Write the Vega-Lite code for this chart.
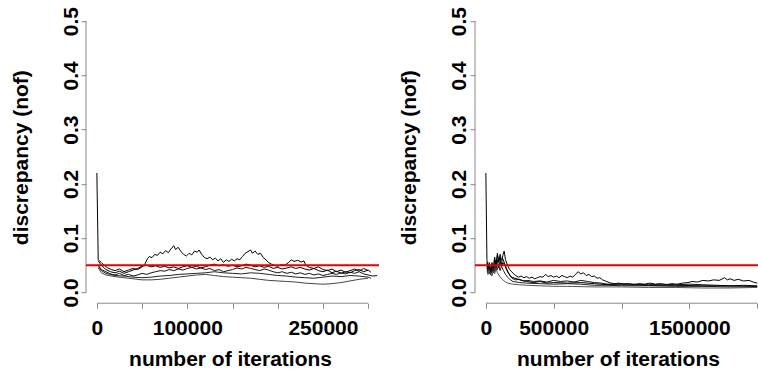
{
  "$schema": "https://vega.github.io/schema/vega-lite/v6.json",
  "autosize": {"type": "pad"},
  "padding": {"left": 10, "top": 6.2, "right": 0, "bottom": 0},
  "background": "white",
  "bounds": "flush",
  "spacing": 96,
  "config": {
    "view": {"stroke": null},
    "font": "Liberation Sans",
    "axis": {
      "grid": false,
      "domain": false,
      "ticks": true,
      "tickSize": 5,
      "tickColor": "#888888",
      "tickWidth": 1,
      "labelFont": "Liberation Sans",
      "labelFontWeight": "bold",
      "labelFontSize": 21,
      "labelColor": "black",
      "labelOverlap": false,
      "labelFlush": false,
      "titleFont": "Liberation Sans",
      "titleFontWeight": "bold",
      "titleFontSize": 21,
      "titleColor": "black"
    }
  },
  "datasets": {
    "short_runs": [
      {"run": "A", "iter": 0, "nof": 0.22}, {"run": "A", "iter": 1500, "nof": 0.06}, {"run": "A", "iter": 3000, "nof": 0.058}, {"run": "A", "iter": 5000, "nof": 0.055}, {"run": "A", "iter": 8000, "nof": 0.05}, {"run": "A", "iter": 12000, "nof": 0.045}, {"run": "A", "iter": 16000, "nof": 0.042}, {"run": "A", "iter": 20000, "nof": 0.04}, {"run": "A", "iter": 25000, "nof": 0.043}, {"run": "A", "iter": 30000, "nof": 0.038}, {"run": "A", "iter": 35000, "nof": 0.041}, {"run": "A", "iter": 40000, "nof": 0.044}, {"run": "A", "iter": 45000, "nof": 0.042}, {"run": "A", "iter": 50000, "nof": 0.047}, {"run": "A", "iter": 53000, "nof": 0.052}, {"run": "A", "iter": 56000, "nof": 0.062}, {"run": "A", "iter": 58000, "nof": 0.066}, {"run": "A", "iter": 61000, "nof": 0.064}, {"run": "A", "iter": 64000, "nof": 0.07}, {"run": "A", "iter": 67000, "nof": 0.068}, {"run": "A", "iter": 70000, "nof": 0.074}, {"run": "A", "iter": 73000, "nof": 0.071}, {"run": "A", "iter": 76000, "nof": 0.077}, {"run": "A", "iter": 79000, "nof": 0.073}, {"run": "A", "iter": 82000, "nof": 0.08}, {"run": "A", "iter": 85000, "nof": 0.086}, {"run": "A", "iter": 87000, "nof": 0.079}, {"run": "A", "iter": 90000, "nof": 0.083}, {"run": "A", "iter": 93000, "nof": 0.075}, {"run": "A", "iter": 96000, "nof": 0.07}, {"run": "A", "iter": 99000, "nof": 0.067}, {"run": "A", "iter": 102000, "nof": 0.072}, {"run": "A", "iter": 105000, "nof": 0.069}, {"run": "A", "iter": 108000, "nof": 0.076}, {"run": "A", "iter": 111000, "nof": 0.074}, {"run": "A", "iter": 113000, "nof": 0.078}, {"run": "A", "iter": 116000, "nof": 0.07}, {"run": "A", "iter": 119000, "nof": 0.064}, {"run": "A", "iter": 122000, "nof": 0.062}, {"run": "A", "iter": 125000, "nof": 0.065}, {"run": "A", "iter": 128000, "nof": 0.06}, {"run": "A", "iter": 131000, "nof": 0.063}, {"run": "A", "iter": 134000, "nof": 0.058}, {"run": "A", "iter": 137000, "nof": 0.062}, {"run": "A", "iter": 140000, "nof": 0.055}, {"run": "A", "iter": 143000, "nof": 0.06}, {"run": "A", "iter": 146000, "nof": 0.057}, {"run": "A", "iter": 149000, "nof": 0.061}, {"run": "A", "iter": 152000, "nof": 0.058}, {"run": "A", "iter": 155000, "nof": 0.062}, {"run": "A", "iter": 158000, "nof": 0.06}, {"run": "A", "iter": 161000, "nof": 0.066}, {"run": "A", "iter": 164000, "nof": 0.072}, {"run": "A", "iter": 167000, "nof": 0.075}, {"run": "A", "iter": 170000, "nof": 0.078}, {"run": "A", "iter": 172000, "nof": 0.072}, {"run": "A", "iter": 175000, "nof": 0.076}, {"run": "A", "iter": 178000, "nof": 0.07}, {"run": "A", "iter": 181000, "nof": 0.072}, {"run": "A", "iter": 184000, "nof": 0.064}, {"run": "A", "iter": 187000, "nof": 0.06}, {"run": "A", "iter": 190000, "nof": 0.055}, {"run": "A", "iter": 193000, "nof": 0.052}, {"run": "A", "iter": 196000, "nof": 0.05}, {"run": "A", "iter": 200000, "nof": 0.048}, {"run": "A", "iter": 204000, "nof": 0.051}, {"run": "A", "iter": 208000, "nof": 0.05}, {"run": "A", "iter": 212000, "nof": 0.055}, {"run": "A", "iter": 215000, "nof": 0.06}, {"run": "A", "iter": 218000, "nof": 0.057}, {"run": "A", "iter": 222000, "nof": 0.059}, {"run": "A", "iter": 226000, "nof": 0.056}, {"run": "A", "iter": 229000, "nof": 0.058}, {"run": "A", "iter": 231000, "nof": 0.05}, {"run": "A", "iter": 235000, "nof": 0.046}, {"run": "A", "iter": 240000, "nof": 0.044}, {"run": "A", "iter": 245000, "nof": 0.047}, {"run": "A", "iter": 250000, "nof": 0.042}, {"run": "A", "iter": 255000, "nof": 0.04}, {"run": "A", "iter": 260000, "nof": 0.043}, {"run": "A", "iter": 265000, "nof": 0.038}, {"run": "A", "iter": 270000, "nof": 0.041}, {"run": "A", "iter": 275000, "nof": 0.037}, {"run": "A", "iter": 280000, "nof": 0.04}, {"run": "A", "iter": 285000, "nof": 0.043}, {"run": "A", "iter": 290000, "nof": 0.039}, {"run": "A", "iter": 295000, "nof": 0.044}, {"run": "A", "iter": 300000, "nof": 0.04},

      {"run": "B", "iter": 1500, "nof": 0.058}, {"run": "B", "iter": 5000, "nof": 0.05}, {"run": "B", "iter": 10000, "nof": 0.042}, {"run": "B", "iter": 15000, "nof": 0.038}, {"run": "B", "iter": 20000, "nof": 0.036}, {"run": "B", "iter": 25000, "nof": 0.039}, {"run": "B", "iter": 30000, "nof": 0.035}, {"run": "B", "iter": 35000, "nof": 0.038}, {"run": "B", "iter": 40000, "nof": 0.041}, {"run": "B", "iter": 45000, "nof": 0.044}, {"run": "B", "iter": 50000, "nof": 0.048}, {"run": "B", "iter": 55000, "nof": 0.05}, {"run": "B", "iter": 60000, "nof": 0.047}, {"run": "B", "iter": 65000, "nof": 0.049}, {"run": "B", "iter": 70000, "nof": 0.046}, {"run": "B", "iter": 75000, "nof": 0.048}, {"run": "B", "iter": 80000, "nof": 0.045}, {"run": "B", "iter": 85000, "nof": 0.047}, {"run": "B", "iter": 90000, "nof": 0.044}, {"run": "B", "iter": 95000, "nof": 0.047}, {"run": "B", "iter": 100000, "nof": 0.049}, {"run": "B", "iter": 105000, "nof": 0.046}, {"run": "B", "iter": 110000, "nof": 0.048}, {"run": "B", "iter": 115000, "nof": 0.045}, {"run": "B", "iter": 120000, "nof": 0.047}, {"run": "B", "iter": 125000, "nof": 0.05}, {"run": "B", "iter": 130000, "nof": 0.052}, {"run": "B", "iter": 135000, "nof": 0.049}, {"run": "B", "iter": 140000, "nof": 0.051}, {"run": "B", "iter": 145000, "nof": 0.048}, {"run": "B", "iter": 150000, "nof": 0.05}, {"run": "B", "iter": 155000, "nof": 0.047}, {"run": "B", "iter": 160000, "nof": 0.049}, {"run": "B", "iter": 165000, "nof": 0.052}, {"run": "B", "iter": 170000, "nof": 0.05}, {"run": "B", "iter": 175000, "nof": 0.047}, {"run": "B", "iter": 180000, "nof": 0.049}, {"run": "B", "iter": 185000, "nof": 0.046}, {"run": "B", "iter": 190000, "nof": 0.048}, {"run": "B", "iter": 195000, "nof": 0.044}, {"run": "B", "iter": 200000, "nof": 0.046}, {"run": "B", "iter": 205000, "nof": 0.043}, {"run": "B", "iter": 210000, "nof": 0.045}, {"run": "B", "iter": 215000, "nof": 0.047}, {"run": "B", "iter": 220000, "nof": 0.044}, {"run": "B", "iter": 225000, "nof": 0.046}, {"run": "B", "iter": 230000, "nof": 0.043}, {"run": "B", "iter": 235000, "nof": 0.041}, {"run": "B", "iter": 240000, "nof": 0.044}, {"run": "B", "iter": 245000, "nof": 0.04}, {"run": "B", "iter": 250000, "nof": 0.038}, {"run": "B", "iter": 255000, "nof": 0.041}, {"run": "B", "iter": 260000, "nof": 0.036}, {"run": "B", "iter": 265000, "nof": 0.039}, {"run": "B", "iter": 270000, "nof": 0.035}, {"run": "B", "iter": 275000, "nof": 0.038}, {"run": "B", "iter": 280000, "nof": 0.036}, {"run": "B", "iter": 285000, "nof": 0.04}, {"run": "B", "iter": 290000, "nof": 0.042}, {"run": "B", "iter": 295000, "nof": 0.038}, {"run": "B", "iter": 300000, "nof": 0.041}, {"run": "B", "iter": 303000, "nof": 0.037},

      {"run": "C", "iter": 1500, "nof": 0.05}, {"run": "C", "iter": 5000, "nof": 0.042}, {"run": "C", "iter": 10000, "nof": 0.038}, {"run": "C", "iter": 15000, "nof": 0.034}, {"run": "C", "iter": 20000, "nof": 0.032}, {"run": "C", "iter": 25000, "nof": 0.035}, {"run": "C", "iter": 30000, "nof": 0.031}, {"run": "C", "iter": 35000, "nof": 0.033}, {"run": "C", "iter": 40000, "nof": 0.03}, {"run": "C", "iter": 45000, "nof": 0.032}, {"run": "C", "iter": 50000, "nof": 0.035}, {"run": "C", "iter": 55000, "nof": 0.033}, {"run": "C", "iter": 60000, "nof": 0.036}, {"run": "C", "iter": 65000, "nof": 0.038}, {"run": "C", "iter": 70000, "nof": 0.04}, {"run": "C", "iter": 75000, "nof": 0.039}, {"run": "C", "iter": 80000, "nof": 0.042}, {"run": "C", "iter": 85000, "nof": 0.04}, {"run": "C", "iter": 90000, "nof": 0.043}, {"run": "C", "iter": 95000, "nof": 0.041}, {"run": "C", "iter": 100000, "nof": 0.044}, {"run": "C", "iter": 105000, "nof": 0.046}, {"run": "C", "iter": 110000, "nof": 0.043}, {"run": "C", "iter": 115000, "nof": 0.045}, {"run": "C", "iter": 120000, "nof": 0.042}, {"run": "C", "iter": 125000, "nof": 0.044}, {"run": "C", "iter": 130000, "nof": 0.04}, {"run": "C", "iter": 135000, "nof": 0.042}, {"run": "C", "iter": 140000, "nof": 0.038}, {"run": "C", "iter": 145000, "nof": 0.04}, {"run": "C", "iter": 150000, "nof": 0.042}, {"run": "C", "iter": 155000, "nof": 0.045}, {"run": "C", "iter": 160000, "nof": 0.043}, {"run": "C", "iter": 165000, "nof": 0.046}, {"run": "C", "iter": 170000, "nof": 0.044}, {"run": "C", "iter": 175000, "nof": 0.042}, {"run": "C", "iter": 180000, "nof": 0.04}, {"run": "C", "iter": 185000, "nof": 0.043}, {"run": "C", "iter": 190000, "nof": 0.041}, {"run": "C", "iter": 195000, "nof": 0.038}, {"run": "C", "iter": 200000, "nof": 0.036}, {"run": "C", "iter": 205000, "nof": 0.038}, {"run": "C", "iter": 210000, "nof": 0.035}, {"run": "C", "iter": 215000, "nof": 0.037}, {"run": "C", "iter": 220000, "nof": 0.034}, {"run": "C", "iter": 225000, "nof": 0.036}, {"run": "C", "iter": 230000, "nof": 0.033}, {"run": "C", "iter": 235000, "nof": 0.035}, {"run": "C", "iter": 240000, "nof": 0.032}, {"run": "C", "iter": 245000, "nof": 0.034}, {"run": "C", "iter": 250000, "nof": 0.031}, {"run": "C", "iter": 255000, "nof": 0.033}, {"run": "C", "iter": 260000, "nof": 0.035}, {"run": "C", "iter": 265000, "nof": 0.033}, {"run": "C", "iter": 270000, "nof": 0.036}, {"run": "C", "iter": 275000, "nof": 0.034}, {"run": "C", "iter": 280000, "nof": 0.037}, {"run": "C", "iter": 285000, "nof": 0.035}, {"run": "C", "iter": 290000, "nof": 0.038}, {"run": "C", "iter": 295000, "nof": 0.034}, {"run": "C", "iter": 300000, "nof": 0.032}, {"run": "C", "iter": 305000, "nof": 0.03}, {"run": "C", "iter": 310000, "nof": 0.031},

      {"run": "D", "iter": 1500, "nof": 0.045}, {"run": "D", "iter": 5000, "nof": 0.036}, {"run": "D", "iter": 10000, "nof": 0.032}, {"run": "D", "iter": 20000, "nof": 0.029}, {"run": "D", "iter": 30000, "nof": 0.027}, {"run": "D", "iter": 40000, "nof": 0.025}, {"run": "D", "iter": 50000, "nof": 0.023}, {"run": "D", "iter": 60000, "nof": 0.023}, {"run": "D", "iter": 70000, "nof": 0.024}, {"run": "D", "iter": 80000, "nof": 0.026}, {"run": "D", "iter": 90000, "nof": 0.028}, {"run": "D", "iter": 100000, "nof": 0.03}, {"run": "D", "iter": 110000, "nof": 0.032}, {"run": "D", "iter": 120000, "nof": 0.033}, {"run": "D", "iter": 130000, "nof": 0.031}, {"run": "D", "iter": 140000, "nof": 0.029}, {"run": "D", "iter": 150000, "nof": 0.028}, {"run": "D", "iter": 160000, "nof": 0.027}, {"run": "D", "iter": 170000, "nof": 0.026}, {"run": "D", "iter": 180000, "nof": 0.024}, {"run": "D", "iter": 190000, "nof": 0.022}, {"run": "D", "iter": 200000, "nof": 0.021}, {"run": "D", "iter": 210000, "nof": 0.02}, {"run": "D", "iter": 220000, "nof": 0.019}, {"run": "D", "iter": 230000, "nof": 0.017}, {"run": "D", "iter": 240000, "nof": 0.016}, {"run": "D", "iter": 250000, "nof": 0.015}, {"run": "D", "iter": 260000, "nof": 0.016}, {"run": "D", "iter": 270000, "nof": 0.018}, {"run": "D", "iter": 280000, "nof": 0.021}, {"run": "D", "iter": 290000, "nof": 0.024}, {"run": "D", "iter": 300000, "nof": 0.026},

      {"run": "E", "iter": 1500, "nof": 0.048}, {"run": "E", "iter": 5000, "nof": 0.04}, {"run": "E", "iter": 10000, "nof": 0.035}, {"run": "E", "iter": 20000, "nof": 0.031}, {"run": "E", "iter": 30000, "nof": 0.03}, {"run": "E", "iter": 40000, "nof": 0.028}, {"run": "E", "iter": 50000, "nof": 0.027}, {"run": "E", "iter": 60000, "nof": 0.028}, {"run": "E", "iter": 70000, "nof": 0.03}, {"run": "E", "iter": 80000, "nof": 0.031}, {"run": "E", "iter": 90000, "nof": 0.033}, {"run": "E", "iter": 100000, "nof": 0.034}, {"run": "E", "iter": 110000, "nof": 0.035}, {"run": "E", "iter": 120000, "nof": 0.036}, {"run": "E", "iter": 130000, "nof": 0.038}, {"run": "E", "iter": 140000, "nof": 0.036}, {"run": "E", "iter": 150000, "nof": 0.035}, {"run": "E", "iter": 160000, "nof": 0.034}, {"run": "E", "iter": 170000, "nof": 0.036}, {"run": "E", "iter": 180000, "nof": 0.035}, {"run": "E", "iter": 190000, "nof": 0.033}, {"run": "E", "iter": 200000, "nof": 0.031}, {"run": "E", "iter": 210000, "nof": 0.03}, {"run": "E", "iter": 220000, "nof": 0.028}, {"run": "E", "iter": 230000, "nof": 0.027}, {"run": "E", "iter": 240000, "nof": 0.026}, {"run": "E", "iter": 250000, "nof": 0.028}, {"run": "E", "iter": 260000, "nof": 0.03}, {"run": "E", "iter": 270000, "nof": 0.029}, {"run": "E", "iter": 280000, "nof": 0.031}, {"run": "E", "iter": 290000, "nof": 0.03}, {"run": "E", "iter": 300000, "nof": 0.028}, {"run": "E", "iter": 303000, "nof": 0.026}
    ],
    "long_runs": [
      {"run": "A", "iter": 0, "nof": 0.22}, {"run": "A", "iter": 8000, "nof": 0.06}, {"run": "A", "iter": 15000, "nof": 0.045}, {"run": "A", "iter": 25000, "nof": 0.055}, {"run": "A", "iter": 35000, "nof": 0.04}, {"run": "A", "iter": 45000, "nof": 0.05}, {"run": "A", "iter": 55000, "nof": 0.038}, {"run": "A", "iter": 65000, "nof": 0.06}, {"run": "A", "iter": 75000, "nof": 0.048}, {"run": "A", "iter": 85000, "nof": 0.072}, {"run": "A", "iter": 95000, "nof": 0.055}, {"run": "A", "iter": 105000, "nof": 0.065}, {"run": "A", "iter": 115000, "nof": 0.05}, {"run": "A", "iter": 125000, "nof": 0.068}, {"run": "A", "iter": 135000, "nof": 0.076}, {"run": "A", "iter": 145000, "nof": 0.06}, {"run": "A", "iter": 160000, "nof": 0.05}, {"run": "A", "iter": 175000, "nof": 0.042}, {"run": "A", "iter": 190000, "nof": 0.038}, {"run": "A", "iter": 205000, "nof": 0.034}, {"run": "A", "iter": 220000, "nof": 0.031}, {"run": "A", "iter": 240000, "nof": 0.028}, {"run": "A", "iter": 260000, "nof": 0.03}, {"run": "A", "iter": 280000, "nof": 0.027}, {"run": "A", "iter": 300000, "nof": 0.029}, {"run": "A", "iter": 320000, "nof": 0.026}, {"run": "A", "iter": 340000, "nof": 0.028}, {"run": "A", "iter": 360000, "nof": 0.025}, {"run": "A", "iter": 380000, "nof": 0.027}, {"run": "A", "iter": 400000, "nof": 0.029}, {"run": "A", "iter": 420000, "nof": 0.028}, {"run": "A", "iter": 440000, "nof": 0.033}, {"run": "A", "iter": 460000, "nof": 0.029}, {"run": "A", "iter": 480000, "nof": 0.031}, {"run": "A", "iter": 500000, "nof": 0.028}, {"run": "A", "iter": 520000, "nof": 0.03}, {"run": "A", "iter": 540000, "nof": 0.027}, {"run": "A", "iter": 560000, "nof": 0.031}, {"run": "A", "iter": 580000, "nof": 0.029}, {"run": "A", "iter": 600000, "nof": 0.027}, {"run": "A", "iter": 620000, "nof": 0.03}, {"run": "A", "iter": 640000, "nof": 0.028}, {"run": "A", "iter": 660000, "nof": 0.033}, {"run": "A", "iter": 680000, "nof": 0.038}, {"run": "A", "iter": 700000, "nof": 0.034}, {"run": "A", "iter": 720000, "nof": 0.036}, {"run": "A", "iter": 740000, "nof": 0.031}, {"run": "A", "iter": 760000, "nof": 0.033}, {"run": "A", "iter": 780000, "nof": 0.029}, {"run": "A", "iter": 800000, "nof": 0.03}, {"run": "A", "iter": 820000, "nof": 0.026}, {"run": "A", "iter": 840000, "nof": 0.027}, {"run": "A", "iter": 860000, "nof": 0.023}, {"run": "A", "iter": 880000, "nof": 0.021}, {"run": "A", "iter": 900000, "nof": 0.019}, {"run": "A", "iter": 920000, "nof": 0.017}, {"run": "A", "iter": 950000, "nof": 0.016}, {"run": "A", "iter": 980000, "nof": 0.017}, {"run": "A", "iter": 1010000, "nof": 0.015}, {"run": "A", "iter": 1050000, "nof": 0.016}, {"run": "A", "iter": 1090000, "nof": 0.014}, {"run": "A", "iter": 1130000, "nof": 0.016}, {"run": "A", "iter": 1170000, "nof": 0.015}, {"run": "A", "iter": 1210000, "nof": 0.017}, {"run": "A", "iter": 1250000, "nof": 0.015}, {"run": "A", "iter": 1290000, "nof": 0.016}, {"run": "A", "iter": 1330000, "nof": 0.014}, {"run": "A", "iter": 1370000, "nof": 0.016}, {"run": "A", "iter": 1410000, "nof": 0.015}, {"run": "A", "iter": 1450000, "nof": 0.017}, {"run": "A", "iter": 1490000, "nof": 0.018}, {"run": "A", "iter": 1520000, "nof": 0.02}, {"run": "A", "iter": 1560000, "nof": 0.019}, {"run": "A", "iter": 1600000, "nof": 0.022}, {"run": "A", "iter": 1640000, "nof": 0.021}, {"run": "A", "iter": 1680000, "nof": 0.023}, {"run": "A", "iter": 1720000, "nof": 0.022}, {"run": "A", "iter": 1760000, "nof": 0.027}, {"run": "A", "iter": 1780000, "nof": 0.023}, {"run": "A", "iter": 1800000, "nof": 0.025}, {"run": "A", "iter": 1830000, "nof": 0.022}, {"run": "A", "iter": 1860000, "nof": 0.024}, {"run": "A", "iter": 1900000, "nof": 0.021}, {"run": "A", "iter": 1940000, "nof": 0.022}, {"run": "A", "iter": 1970000, "nof": 0.019}, {"run": "A", "iter": 2000000, "nof": 0.017},

      {"run": "B", "iter": 8000, "nof": 0.05}, {"run": "B", "iter": 15000, "nof": 0.035}, {"run": "B", "iter": 25000, "nof": 0.048}, {"run": "B", "iter": 35000, "nof": 0.032}, {"run": "B", "iter": 45000, "nof": 0.045}, {"run": "B", "iter": 55000, "nof": 0.036}, {"run": "B", "iter": 65000, "nof": 0.052}, {"run": "B", "iter": 75000, "nof": 0.04}, {"run": "B", "iter": 85000, "nof": 0.06}, {"run": "B", "iter": 95000, "nof": 0.045}, {"run": "B", "iter": 105000, "nof": 0.058}, {"run": "B", "iter": 115000, "nof": 0.047}, {"run": "B", "iter": 125000, "nof": 0.055}, {"run": "B", "iter": 140000, "nof": 0.05}, {"run": "B", "iter": 155000, "nof": 0.04}, {"run": "B", "iter": 170000, "nof": 0.034}, {"run": "B", "iter": 185000, "nof": 0.028}, {"run": "B", "iter": 200000, "nof": 0.025}, {"run": "B", "iter": 220000, "nof": 0.023}, {"run": "B", "iter": 250000, "nof": 0.024}, {"run": "B", "iter": 280000, "nof": 0.021}, {"run": "B", "iter": 310000, "nof": 0.022}, {"run": "B", "iter": 350000, "nof": 0.02}, {"run": "B", "iter": 400000, "nof": 0.021}, {"run": "B", "iter": 450000, "nof": 0.019}, {"run": "B", "iter": 500000, "nof": 0.022}, {"run": "B", "iter": 550000, "nof": 0.02}, {"run": "B", "iter": 600000, "nof": 0.021}, {"run": "B", "iter": 650000, "nof": 0.019}, {"run": "B", "iter": 700000, "nof": 0.022}, {"run": "B", "iter": 750000, "nof": 0.02}, {"run": "B", "iter": 800000, "nof": 0.018}, {"run": "B", "iter": 850000, "nof": 0.017}, {"run": "B", "iter": 900000, "nof": 0.015}, {"run": "B", "iter": 1000000, "nof": 0.016}, {"run": "B", "iter": 1100000, "nof": 0.015}, {"run": "B", "iter": 1200000, "nof": 0.014}, {"run": "B", "iter": 1300000, "nof": 0.015}, {"run": "B", "iter": 1400000, "nof": 0.014}, {"run": "B", "iter": 1500000, "nof": 0.015}, {"run": "B", "iter": 1600000, "nof": 0.014}, {"run": "B", "iter": 1700000, "nof": 0.013}, {"run": "B", "iter": 1800000, "nof": 0.012}, {"run": "B", "iter": 1900000, "nof": 0.013}, {"run": "B", "iter": 2000000, "nof": 0.012},

      {"run": "C", "iter": 8000, "nof": 0.045}, {"run": "C", "iter": 15000, "nof": 0.04}, {"run": "C", "iter": 25000, "nof": 0.034}, {"run": "C", "iter": 35000, "nof": 0.044}, {"run": "C", "iter": 45000, "nof": 0.035}, {"run": "C", "iter": 55000, "nof": 0.05}, {"run": "C", "iter": 65000, "nof": 0.038}, {"run": "C", "iter": 75000, "nof": 0.055}, {"run": "C", "iter": 85000, "nof": 0.042}, {"run": "C", "iter": 95000, "nof": 0.05}, {"run": "C", "iter": 105000, "nof": 0.04}, {"run": "C", "iter": 115000, "nof": 0.048}, {"run": "C", "iter": 130000, "nof": 0.04}, {"run": "C", "iter": 145000, "nof": 0.033}, {"run": "C", "iter": 160000, "nof": 0.028}, {"run": "C", "iter": 180000, "nof": 0.023}, {"run": "C", "iter": 200000, "nof": 0.02}, {"run": "C", "iter": 250000, "nof": 0.018}, {"run": "C", "iter": 300000, "nof": 0.017}, {"run": "C", "iter": 400000, "nof": 0.016}, {"run": "C", "iter": 500000, "nof": 0.015}, {"run": "C", "iter": 600000, "nof": 0.016}, {"run": "C", "iter": 700000, "nof": 0.015}, {"run": "C", "iter": 800000, "nof": 0.013}, {"run": "C", "iter": 900000, "nof": 0.013}, {"run": "C", "iter": 1000000, "nof": 0.012}, {"run": "C", "iter": 1200000, "nof": 0.012}, {"run": "C", "iter": 1400000, "nof": 0.011}, {"run": "C", "iter": 1600000, "nof": 0.011}, {"run": "C", "iter": 1800000, "nof": 0.01}, {"run": "C", "iter": 2000000, "nof": 0.01},

      {"run": "D", "iter": 8000, "nof": 0.04}, {"run": "D", "iter": 15000, "nof": 0.033}, {"run": "D", "iter": 25000, "nof": 0.042}, {"run": "D", "iter": 35000, "nof": 0.036}, {"run": "D", "iter": 45000, "nof": 0.03}, {"run": "D", "iter": 55000, "nof": 0.04}, {"run": "D", "iter": 65000, "nof": 0.034}, {"run": "D", "iter": 75000, "nof": 0.045}, {"run": "D", "iter": 85000, "nof": 0.036}, {"run": "D", "iter": 100000, "nof": 0.03}, {"run": "D", "iter": 120000, "nof": 0.024}, {"run": "D", "iter": 140000, "nof": 0.02}, {"run": "D", "iter": 160000, "nof": 0.017}, {"run": "D", "iter": 200000, "nof": 0.015}, {"run": "D", "iter": 250000, "nof": 0.014}, {"run": "D", "iter": 300000, "nof": 0.013}, {"run": "D", "iter": 400000, "nof": 0.012}, {"run": "D", "iter": 500000, "nof": 0.011}, {"run": "D", "iter": 600000, "nof": 0.011}, {"run": "D", "iter": 800000, "nof": 0.01}, {"run": "D", "iter": 1000000, "nof": 0.01}, {"run": "D", "iter": 1200000, "nof": 0.009}, {"run": "D", "iter": 1400000, "nof": 0.009}, {"run": "D", "iter": 1600000, "nof": 0.008}, {"run": "D", "iter": 1800000, "nof": 0.008}, {"run": "D", "iter": 2000000, "nof": 0.009},

      {"run": "E", "iter": 8000, "nof": 0.055}, {"run": "E", "iter": 15000, "nof": 0.042}, {"run": "E", "iter": 25000, "nof": 0.05}, {"run": "E", "iter": 35000, "nof": 0.038}, {"run": "E", "iter": 45000, "nof": 0.055}, {"run": "E", "iter": 55000, "nof": 0.045}, {"run": "E", "iter": 65000, "nof": 0.065}, {"run": "E", "iter": 75000, "nof": 0.05}, {"run": "E", "iter": 85000, "nof": 0.068}, {"run": "E", "iter": 95000, "nof": 0.058}, {"run": "E", "iter": 105000, "nof": 0.07}, {"run": "E", "iter": 115000, "nof": 0.06}, {"run": "E", "iter": 125000, "nof": 0.062}, {"run": "E", "iter": 140000, "nof": 0.052}, {"run": "E", "iter": 150000, "nof": 0.045}, {"run": "E", "iter": 165000, "nof": 0.037}, {"run": "E", "iter": 180000, "nof": 0.03}, {"run": "E", "iter": 200000, "nof": 0.027}, {"run": "E", "iter": 230000, "nof": 0.025}, {"run": "E", "iter": 260000, "nof": 0.022}, {"run": "E", "iter": 300000, "nof": 0.02}, {"run": "E", "iter": 350000, "nof": 0.018}, {"run": "E", "iter": 400000, "nof": 0.02}, {"run": "E", "iter": 450000, "nof": 0.017}, {"run": "E", "iter": 500000, "nof": 0.018}, {"run": "E", "iter": 600000, "nof": 0.017}, {"run": "E", "iter": 700000, "nof": 0.018}, {"run": "E", "iter": 800000, "nof": 0.016}, {"run": "E", "iter": 900000, "nof": 0.014}, {"run": "E", "iter": 1000000, "nof": 0.014}, {"run": "E", "iter": 1200000, "nof": 0.013}, {"run": "E", "iter": 1400000, "nof": 0.013}, {"run": "E", "iter": 1600000, "nof": 0.012}, {"run": "E", "iter": 1800000, "nof": 0.012}, {"run": "E", "iter": 2000000, "nof": 0.011}
    ]
  },
  "hconcat": [
    {
      "width": 293,
      "height": 293,
      "data": {"name": "short_runs"},
      "layer": [
        {
          "mark": {"type": "line", "strokeWidth": 1, "clip": true},
          "encoding": {
            "x": {
              "field": "iter", "type": "quantitative",
              "scale": {"domain": [-12000, 312000], "nice": false, "zero": false},
              "axis": {
                "values": [0, 50000, 100000, 150000, 200000, 250000, 300000],
                "labelExpr": "(datum.value == 0 || datum.value == 100000 || datum.value == 250000) ? format(datum.value, 'd') : ''",
                "labelBaseline": "alphabetic",
                "labelPadding": 26,
                "title": "number of iterations",
                "titleBaseline": "alphabetic",
                "titleAlign": "center",
                "titleX": 144,
                "titleY": 62
              }
            },
            "y": {
              "field": "nof", "type": "quantitative",
              "scale": {"domain": [-0.02, 0.52], "nice": false, "zero": false},
              "axis": {
                "values": [0, 0.1, 0.2, 0.3, 0.4, 0.5],
                "format": ".1f",
                "labelAngle": 270,
                "labelAlign": "center",
                "labelBaseline": "alphabetic",
                "labelPadding": 4,
                "title": "discrepancy (nof)",
                "titleAngle": 270,
                "titleBaseline": "alphabetic",
                "titleAlign": "center",
                "titleX": -59,
                "titleY": 147
              }
            },
            "detail": {"field": "run"},
            "color": {"field": "run", "type": "nominal", "scale": {"domain": ["A", "B", "C", "D", "E"], "range": ["#000000", "#000000", "#111111", "#444444", "#222222"]}, "legend": null}
          }
        },
        {
          "data": {"values": [{}]},
          "mark": {"type": "rule", "color": "#888888", "strokeWidth": 1},
          "encoding": {
            "x": {"datum": -12000, "type": "quantitative"},
            "y": {"datum": 0, "type": "quantitative"},
            "y2": {"datum": 0.5}
          }
        },
        {
          "data": {"values": [{}]},
          "mark": {"type": "rule", "color": "#888888", "strokeWidth": 1},
          "encoding": {
            "y": {"datum": -0.02, "type": "quantitative"},
            "x": {"datum": 0, "type": "quantitative"},
            "x2": {"datum": 300000}
          }
        },
        {
          "data": {"values": [{}]},
          "mark": {"type": "rule", "color": "#e60000", "strokeWidth": 2},
          "encoding": {"y": {"datum": 0.05, "type": "quantitative"}}
        }
      ]
    },
    {
      "width": 283,
      "height": 293,
      "data": {"name": "long_runs"},
      "layer": [
        {
          "mark": {"type": "line", "strokeWidth": 1, "clip": true},
          "encoding": {
            "x": {
              "field": "iter", "type": "quantitative",
              "scale": {"domain": [-80000, 2006000], "nice": false, "zero": false},
              "axis": {
                "values": [0, 500000, 1000000, 1500000, 2000000],
                "labelExpr": "(datum.value == 0 || datum.value == 500000 || datum.value == 1500000) ? format(datum.value, 'd') : ''",
                "labelBaseline": "alphabetic",
                "labelPadding": 26,
                "title": "number of iterations",
                "titleBaseline": "alphabetic",
                "titleAlign": "center",
                "titleX": 143,
                "titleY": 62
              }
            },
            "y": {
              "field": "nof", "type": "quantitative",
              "scale": {"domain": [-0.02, 0.52], "nice": false, "zero": false},
              "axis": {
                "values": [0, 0.1, 0.2, 0.3, 0.4, 0.5],
                "format": ".1f",
                "labelAngle": 270,
                "labelAlign": "center",
                "labelBaseline": "alphabetic",
                "labelPadding": 4,
                "title": "discrepancy (nof)",
                "titleAngle": 270,
                "titleBaseline": "alphabetic",
                "titleAlign": "center",
                "titleX": -59,
                "titleY": 147
              }
            },
            "detail": {"field": "run"},
            "color": {"field": "run", "type": "nominal", "scale": {"domain": ["A", "B", "C", "D", "E"], "range": ["#000000", "#111111", "#222222", "#555555", "#000000"]}, "legend": null}
          }
        },
        {
          "data": {"values": [{}]},
          "mark": {"type": "rule", "color": "#888888", "strokeWidth": 1},
          "encoding": {
            "x": {"datum": -80000, "type": "quantitative"},
            "y": {"datum": 0, "type": "quantitative"},
            "y2": {"datum": 0.5}
          }
        },
        {
          "data": {"values": [{}]},
          "mark": {"type": "rule", "color": "#888888", "strokeWidth": 1},
          "encoding": {
            "y": {"datum": -0.02, "type": "quantitative"},
            "x": {"datum": 0, "type": "quantitative"},
            "x2": {"datum": 2000000}
          }
        },
        {
          "data": {"values": [{}]},
          "mark": {"type": "rule", "color": "#e60000", "strokeWidth": 2},
          "encoding": {"y": {"datum": 0.05, "type": "quantitative"}}
        }
      ]
    }
  ],
  "resolve": {"scale": {"color": "independent", "x": "independent", "y": "independent"}}
}
